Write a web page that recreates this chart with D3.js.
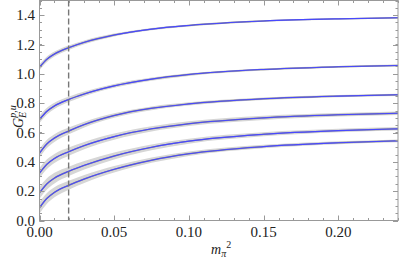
<!DOCTYPE html>
<html>
<head>
<meta charset="utf-8">
<script src="https://cdn.jsdelivr.net/npm/d3@7"></script>
<style>
  body { margin: 0; background: #fff; }
  svg { display: block; }
</style>
</head>
<body>
<div id="run"></div>
<script>
var width = 399,
    height = 262;

// x grid of sampled points (m_pi^2)
var mpi2 = [0, 0.005, 0.01, 0.02, 0.03, 0.05, 0.075, 0.1, 0.15, 0.2, 0.24];

// central values, one array per curve (top to bottom)
var curve1 = [1.045, 1.10, 1.135, 1.18, 1.215, 1.265, 1.305, 1.33, 1.36, 1.375, 1.382];
var curve2 = [0.689, 0.745, 0.781, 0.827, 0.863, 0.918, 0.964, 0.995, 1.03, 1.048, 1.057];
var curve3 = [0.459, 0.523, 0.562, 0.612, 0.654, 0.716, 0.765, 0.795, 0.83, 0.848, 0.857];
var curve4 = [0.323, 0.384, 0.423, 0.471, 0.511, 0.572, 0.625, 0.66, 0.70, 0.721, 0.731];
var curve5 = [0.189, 0.25, 0.289, 0.337, 0.376, 0.44, 0.499, 0.541, 0.588, 0.613, 0.625];
var curve6 = [0.087, 0.151, 0.192, 0.242, 0.283, 0.349, 0.411, 0.455, 0.504, 0.53, 0.543];

// half widths of the grey bands
var err1 = [0.02, 0.019, 0.017, 0.015, 0.013, 0.01, 0.008, 0.007, 0.005, 0.004, 0.004];
var err2 = [0.025, 0.023, 0.021, 0.018, 0.016, 0.013, 0.011, 0.009, 0.007, 0.006, 0.006];
var err3 = [0.03, 0.028, 0.026, 0.023, 0.02, 0.016, 0.013, 0.011, 0.009, 0.008, 0.008];
var err4 = [0.035, 0.033, 0.031, 0.028, 0.025, 0.021, 0.018, 0.016, 0.014, 0.012, 0.012];
var err5 = [0.04, 0.038, 0.036, 0.032, 0.029, 0.024, 0.02, 0.017, 0.014, 0.012, 0.012];
var err6 = [0.04, 0.037, 0.034, 0.03, 0.027, 0.022, 0.018, 0.015, 0.012, 0.01, 0.01];

var curves = [curve1, curve2, curve3, curve4, curve5, curve6];
var errs = [err1, err2, err3, err4, err5, err6];

var physPoint = 0.0195;

var xTicks = [0, 0.05, 0.1, 0.15, 0.2],
    xMinor = d3.range(0, 0.2401, 0.01),
    yTicks = [0, 0.2, 0.4, 0.6, 0.8, 1.0, 1.2, 1.4],
    yMinor = d3.range(0, 1.5001, 0.05);

// plot box (window.top is reserved, so prefixed names)
var pLeft = 39.5, pRight = 398, pTop = 0.5, pBottom = 220.5;

var serif = '"Liberation Serif", "Times New Roman", Tinos, "DejaVu Serif", serif';

var x = d3.scaleLinear().domain([0, 0.24]).range([pLeft, pRight]);
var y = d3.scaleLinear().domain([0, 1.5]).range([pBottom, pTop]);

var svg = d3.select("#run").append("svg")
    .attr("width", width)
    .attr("height", height)
    .attr("font-family", serif);

// bands
var area = d3.area()
    .curve(d3.curveMonotoneX)
    .x(function(d) { return x(d.x); })
    .y0(function(d) { return y(d.v - d.e); })
    .y1(function(d) { return y(d.v + d.e); });

var line = d3.line()
    .curve(d3.curveMonotoneX)
    .x(function(d) { return x(d.x); })
    .y(function(d) { return y(d.v); });

var series = curves.map(function(c, k) {
    return mpi2.map(function(m, i) { return { x: m, v: c[i], e: errs[k][i] }; });
});

svg.selectAll(".band").data(series).enter().append("path")
    .attr("class", "band")
    .attr("d", area)
    .style("fill", "#d6d6d6");

svg.selectAll(".cline").data(series).enter().append("path")
    .attr("class", "cline")
    .attr("d", line)
    .style("fill", "none")
    .style("stroke", "#555")
    .style("stroke-opacity", 0.6)
    .style("stroke-width", 1.4);

svg.selectAll(".fit").data(series).enter().append("path")
    .attr("class", "fit")
    .attr("d", line)
    .style("fill", "none")
    .style("stroke", "#4848ff")
    .style("stroke-width", 1.1);

// physical pion mass
svg.append("line")
    .attr("x1", x(physPoint)).attr("x2", x(physPoint))
    .attr("y1", y(1.5)).attr("y2", y(0))
    .style("stroke", "#777")
    .style("stroke-width", 1.4)
    .style("stroke-dasharray", "6,3");

// frame
svg.append("rect")
    .attr("x", pLeft).attr("y", pTop)
    .attr("width", pRight - pLeft).attr("height", pBottom - pTop)
    .style("fill", "none")
    .style("stroke", "#999")
    .style("stroke-width", 1);

var g = svg.append("g").style("stroke", "#999").style("stroke-width", 1);

function tickX(vals, len) {
    vals.forEach(function(v) {
        var px = Math.round(x(v)) + 0.5;
        g.append("line").attr("x1", px).attr("x2", px).attr("y1", pBottom).attr("y2", pBottom - len);
        g.append("line").attr("x1", px).attr("x2", px).attr("y1", pTop).attr("y2", pTop + len);
    });
}
function tickY(vals, len) {
    vals.forEach(function(v) {
        var py = Math.round(y(v)) + 0.5;
        g.append("line").attr("x1", pLeft).attr("x2", pLeft + len).attr("y1", py).attr("y2", py);
        g.append("line").attr("x1", pRight).attr("x2", pRight - len).attr("y1", py).attr("y2", py);
    });
}
tickX(xMinor, 2.5);
tickX(xTicks, 5);
tickY(yMinor, 2.5);
tickY(yTicks, 5);

// tick labels
svg.selectAll(".xl").data(xTicks).enter().append("text")
    .attr("x", function(d) { return x(d); })
    .attr("y", 237)
    .attr("text-anchor", "middle")
    .attr("fill", "#222")
    .style("font-family", serif)
    .style("font-size", "15px")
    .text(function(d) { return d3.format(".2f")(d); });

svg.selectAll(".yl").data(yTicks).enter().append("text")
    .attr("x", 35)
    .attr("y", function(d) { return y(d) + 5; })
    .attr("text-anchor", "end")
    .attr("fill", "#222")
    .style("font-family", serif)
    .style("font-size", "15px")
    .text(function(d) { return d3.format(".1f")(d); });

// axis titles
var xt = svg.append("text")
    .attr("x", 211)
    .attr("y", 254)
    .attr("fill", "#222")
    .style("font-family", serif)
    .style("font-size", "14px");
xt.append("tspan").style("font-style", "italic").text("m");
xt.append("tspan").style("font-style", "italic").style("font-size", "10px").attr("dy", 3).text("π");
xt.append("tspan").style("font-size", "10px").attr("dy", -9).text("2");

var yt = svg.append("text")
    .attr("transform", "translate(23,128) rotate(-90)")
    .attr("fill", "#222")
    .style("font-family", serif)
    .style("font-size", "14px");
yt.append("tspan").style("font-style", "italic").text("G");
yt.append("tspan").style("font-style", "italic").style("font-size", "10px").attr("dy", 3).text("E");
yt.append("tspan").style("font-style", "italic").style("font-size", "10px").attr("dx", -6).attr("dy", -10).text("p,u");
</script>
</body>
</html>
